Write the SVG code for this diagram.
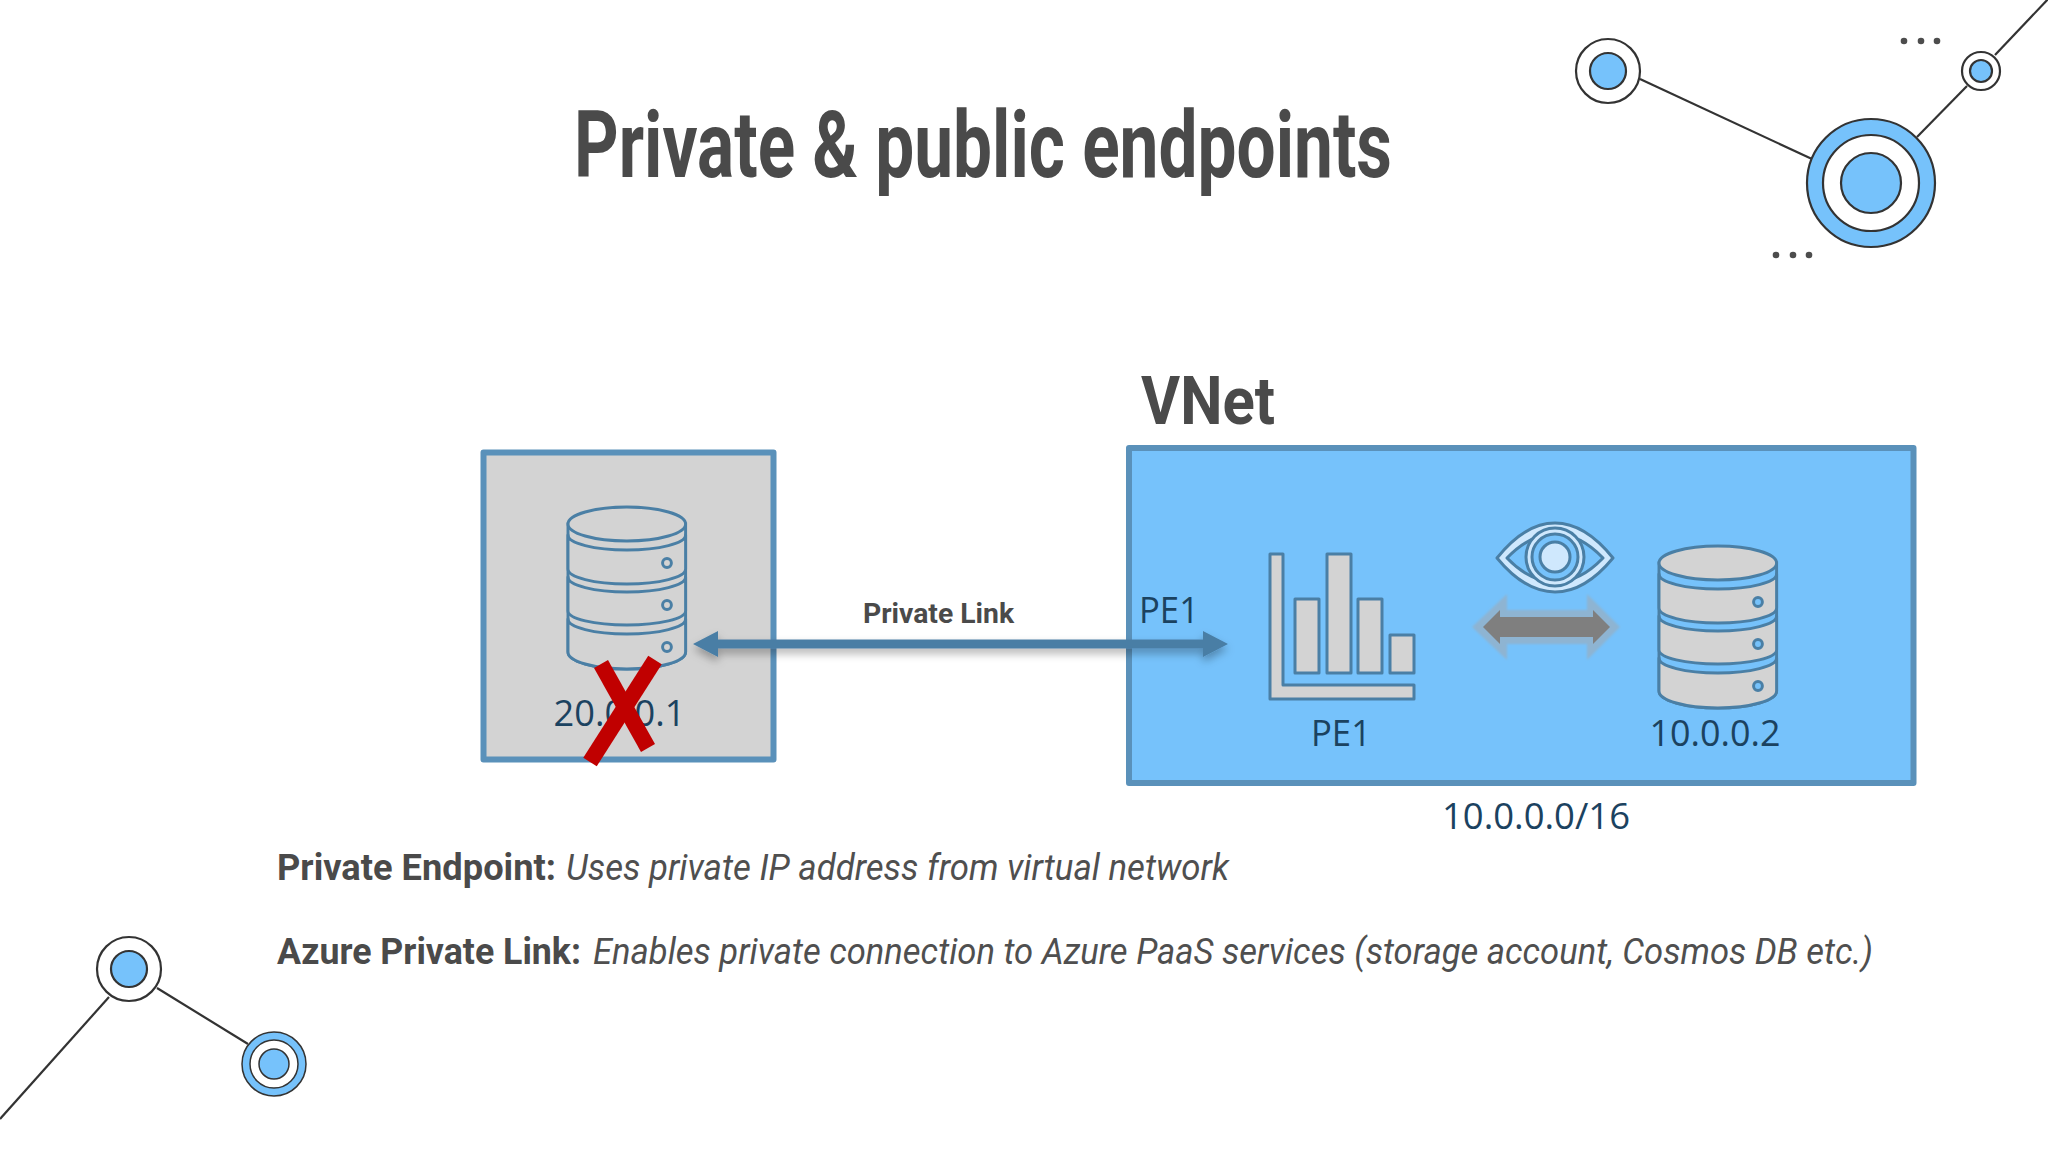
<svg xmlns="http://www.w3.org/2000/svg" xmlns:xlink="http://www.w3.org/1999/xlink" width="2048" height="1152" viewBox="0 0 2048 1152">
<style>
.deco{stroke:#333;stroke-width:2.2;fill:none}
.ring{stroke:#333;stroke-width:2.2;fill:#fff}
.blue{stroke:#333;stroke-width:2.2;fill:#76c2fb}
.dot{fill:#4d4d4d}
.box{stroke:#5a91ba;stroke-width:6;stroke-linejoin:round}
.lbl{font-family:"Open Sans","Noto Sans",sans-serif;font-size:37px;fill:#1b4260}
.head{font-family:"Roboto","Liberation Sans",sans-serif;fill:#4a4a4a}
.b{font-weight:700}
.i{font-style:italic;fill:#4f4f4f}
.icon{stroke:#4a7fa5;stroke-width:3;stroke-linejoin:round}
.arrow{fill:#4a7ea5}
</style>
<defs>
<filter id="sh" x="-5%" y="-100%" width="110%" height="300%"><feDropShadow dx="0" dy="5" stdDeviation="4" flood-color="#000" flood-opacity="0.3"/></filter>
<filter id="soft" x="-10%" y="-20%" width="120%" height="140%"><feGaussianBlur stdDeviation="1"/></filter>
<g id="db">
<path fill="currentColor" stroke="#4a7fa5" stroke-width="3" d="M0 17V145A60 17 0 0 0 120 145V17Z"/>
<g fill="#d3d3d3" stroke="#4a7fa5" stroke-width="3" stroke-linejoin="round">
<ellipse cx="60" cy="17" rx="60" ry="17"/>
<path d="M0 28A60 15 0 0 0 120 28V62A60 15 0 0 1 0 62Z"/>
<path d="M0 70A60 15 0 0 0 120 70V104A60 14 0 0 1 0 104Z"/>
<path d="M0 112A60 15 0 0 0 120 112V145A60 17 0 0 1 0 145Z"/>
</g>
<g fill="currentColor" stroke="#4a7fa5" stroke-width="3">
<circle cx="101" cy="56" r="4.500"/><circle cx="101" cy="98" r="4.500"/><circle cx="101" cy="140" r="4.500"/>
</g>
</g>
</defs>
<rect width="2048" height="1152" fill="#fff"/>
<g id="decor-top">
<line class="deco" x1="1640" y1="79" x2="1812" y2="159"/>
<line class="deco" x1="1917" y1="137" x2="1967" y2="86"/>
<line class="deco" x1="1995" y1="55" x2="2050" y2="-3"/>
<circle class="ring" cx="1608" cy="71" r="32"/><circle class="blue" cx="1608" cy="71" r="18"/>
<circle class="blue" cx="1871" cy="183" r="64"/><circle class="ring" cx="1871" cy="183" r="48"/><circle class="blue" cx="1871" cy="183" r="30"/>
<circle class="ring" cx="1981" cy="71" r="19"/><circle class="blue" cx="1981" cy="71" r="11"/>
<circle class="dot" cx="1904" cy="41" r="3.3"/><circle class="dot" cx="1921" cy="41" r="3.3"/><circle class="dot" cx="1937" cy="41" r="3.3"/>
<circle class="dot" cx="1776" cy="255" r="3.3"/><circle class="dot" cx="1793" cy="255" r="3.3"/><circle class="dot" cx="1809" cy="255" r="3.3"/>
</g>
<g id="decor-bottom">
<line class="deco" x1="109" y1="997" x2="0" y2="1119"/>
<line class="deco" x1="157" y1="988" x2="248" y2="1044"/>
<circle class="ring" cx="129" cy="969" r="32"/><circle class="blue" cx="129" cy="969" r="18"/>
<circle class="blue" cx="274" cy="1064" r="32" style="stroke-width:1.500"/><circle class="ring" cx="274" cy="1064" r="24" style="stroke-width:1.500"/><circle class="blue" cx="274" cy="1064" r="15" style="stroke-width:1.500"/>
</g>
<text class="head" x="574" y="177" font-size="92" font-weight="700" textLength="818" lengthAdjust="spacingAndGlyphs">Private &amp; public endpoints</text>
<text class="head b" x="1141" y="424" font-size="66" textLength="134" lengthAdjust="spacingAndGlyphs">VNet</text>
<g id="node-source">
<rect class="box" x="483.500" y="452.500" width="290" height="307" fill="#d3d3d3"/>
<use xlink:href="#db" href="#db" transform="translate(568 507) scale(.98 1)" color="#d3d3d3"/>
<text class="lbl" x="553.500" y="726" textLength="132" lengthAdjust="spacingAndGlyphs">20.0.0.1</text>
<g id="red-x" stroke="#c00000" stroke-width="16" fill="none">
<line x1="601" y1="664" x2="648" y2="748"/>
<line x1="655" y1="660" x2="590" y2="762"/>
</g>
</g>
<g id="node-vnet">
<rect class="box" x="1129" y="448" width="784.500" height="335" fill="#76c2fb"/>
</g>
<g id="node-pe1">
<path class="icon" fill="#d3d3d3" d="M1270 554H1283V685H1414V699H1270Z"/>
<g class="icon" fill="#d3d3d3">
<rect x="1295" y="599" width="24" height="74"/>
<rect x="1327" y="554" width="24" height="119"/>
<rect x="1358" y="599" width="24" height="74"/>
<rect x="1390" y="635" width="24" height="38"/>
</g>
<text class="lbl" x="1311" y="746" textLength="60" lengthAdjust="spacingAndGlyphs">PE1</text>
</g>
<g id="node-eye">
<path class="icon" fill="#cfe8fd" d="M1497 558Q1525 523 1555 523Q1585 523 1613 558Q1585 592 1555 592Q1525 592 1497 558Z"/>
<path class="icon" fill="#76c2fb" d="M1507 558Q1530 534 1555 534Q1580 534 1603 558Q1580 582 1555 582Q1530 582 1507 558Z"/>
<circle class="icon" cx="1555" cy="557" r="29" fill="#cfe8fd"/>
<circle class="icon" cx="1555" cy="557" r="23" fill="#76c2fb"/>
<circle class="icon" cx="1555" cy="557" r="15" fill="#cfe8fd"/>
</g>
<g id="node-sync">
<path fill="#8eb4d2" filter="url(#soft)" d="M1472 627L1507 594V610H1587V594L1620 627L1587 660V644H1507V660Z"/>
<path fill="#7f7f7f" d="M1483 627L1500 610V617H1593V610L1610 627L1593 644V637H1500V644Z"/>
</g>
<g id="node-target">
<use xlink:href="#db" href="#db" transform="translate(1659 546) scale(.98 1)" color="#76c2fb"/>
<text class="lbl" x="1649.500" y="746" textLength="131" lengthAdjust="spacingAndGlyphs">10.0.0.2</text>
</g>
<text class="lbl" x="1139" y="623" textLength="60" lengthAdjust="spacingAndGlyphs">PE1</text>
<text class="lbl" x="1442" y="829" textLength="188" lengthAdjust="spacingAndGlyphs">10.0.0.0/16</text>
<g id="connectors">
<path class="arrow" filter="url(#sh)" d="M693 644L718 631V639.500H1203V631L1228 644L1203 657V648.500H718V657Z"/>
</g>
<text class="head b" x="863" y="623" font-size="28" textLength="151" lengthAdjust="spacingAndGlyphs">Private Link</text>
<text class="head b" x="277" y="880" font-size="36" textLength="279" lengthAdjust="spacingAndGlyphs">Private Endpoint:</text>
<text class="head i" x="566" y="880" font-size="36" textLength="663" lengthAdjust="spacingAndGlyphs">Uses private IP address from virtual network</text>
<text class="head b" x="277" y="964" font-size="36" textLength="304" lengthAdjust="spacingAndGlyphs">Azure Private Link:</text>
<text class="head i" x="593" y="964" font-size="36" textLength="1280" lengthAdjust="spacingAndGlyphs">Enables private connection to Azure PaaS services (storage account, Cosmos DB etc.)</text>
</svg>
